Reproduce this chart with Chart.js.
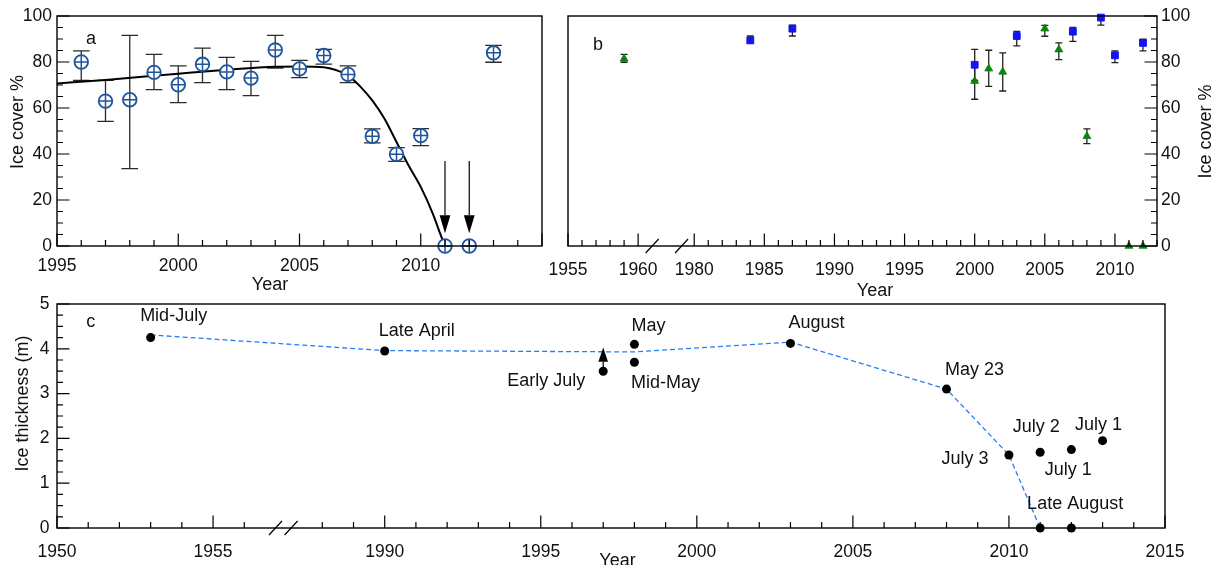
<!DOCTYPE html>
<html>
<head>
<meta charset="utf-8">
<script src="https://cdn.jsdelivr.net/npm/chart.js@4.4.1/dist/chart.umd.min.js"></script>
<style>
  html, body { margin: 0; padding: 0; background: #fff; }
  body { width: 1214px; height: 565px; position: relative; overflow: hidden; }
  .panel { position: absolute; }
</style>
</head>
<body>
<div class="panel" style="left:0;top:0;width:560px;height:300px"><canvas id="chartA"></canvas></div>
<div class="panel" style="left:545px;top:0;width:669px;height:300px"><canvas id="chartB"></canvas></div>
<div class="panel" style="left:0;top:296px;width:1214px;height:269px"><canvas id="chartC"></canvas></div>
<script>
// ---- panel a: ice cover with error bars and fitted curve ----
const coverYears = [1996, 1997, 1998, 1999, 2000, 2001, 2002, 2003, 2004, 2005, 2006, 2007, 2008, 2009, 2010, 2011, 2012, 2013];
const coverMean  = [80, 63, 63.6, 75.5, 70.1, 79, 75.7, 73, 85.2, 77, 82.8, 74.6, 47.7, 39.9, 48, 0, 0, 84];
const coverLow   = [72, 54.2, 33.6, 68, 62.3, 71, 68, 65.4, 77.4, 73.2, 79.1, 71, 44.8, 36.8, 43.6, 0, 0, 79.9];
const coverHigh  = [84.8, 72, 91.6, 83.3, 78.3, 86, 82, 80.3, 91.6, 80.7, 85.5, 78.3, 50.9, 42.8, 51, 0, 0, 87.2];

const fitYears = [1995, 1997, 2000, 2002, 2004, 2005, 2006, 2006.5, 2007, 2007.5, 2008, 2008.5, 2009, 2009.5, 2010, 2010.5, 2010.8, 2011];
const fitCover = [70.7, 72.2, 74.9, 76.6, 77.9, 78.0, 77.7, 76.5, 74.2, 69.4, 63.3, 55.4, 45.2, 35, 25.7, 14, 5.4, 0];

const arrowYears = [2011, 2012];
const arrowFrom  = [37, 37];
const arrowTo    = [5.5, 5.5];

const aTickLabels = [1995, 2000, 2005, 2010];

// ---- panel b: longer record, two sources ----
const squareYears = [1984, 1987, 2000, 2003, 2007, 2009, 2010, 2012];
const squareCover = [89.4, 94.5, 78.8, 91.3, 93.2, 99.3, 82.9, 88.3];
const squareLow   = [88.3, 91.3, 72, 87, 89, 96, 79.7, 84.8];
const squareHigh  = [91.3, 96, 85.5, 93.3, 95, 100, 84.8, 89.9];

const triYears = [1959, 2000, 2001, 2002, 2005, 2006, 2008, 2011, 2012];
const triCover = [81.4, 71.7, 77.1, 75.7, 94.5, 85.4, 47.7, 0, 0];
const triLow   = [79.9, 63.8, 69.4, 67.4, 91.2, 81, 44.5, 0, 0];
const triHigh  = [83.3, 79, 85.1, 84, 95.9, 88.3, 50.9, 0, 0];

const bTickLabels = [1955, 1960, 1980, 1985, 1990, 1995, 2000, 2005, 2010];

// ---- panel c: ice thickness ----
const thickYears = [1953, 1990, 1997, 1998, 1998, 2003, 2008, 2010, 2011, 2011, 2012, 2012, 2013];
const thickness  = [4.25, 3.95, 3.5, 4.10, 3.70, 4.12, 3.10, 1.63, 1.69, 0, 1.75, 0, 1.95];
const thickNotes = ['Mid-July', 'Late April', 'Early July', 'May', 'Mid-May', 'August', 'May 23', 'July 3', 'July 2', 'Late August', 'July 1', '', 'July 1'];

const trendYears = [1953, 1990, 1998, 2003, 2008, 2010, 2011];
const trendThick = [4.31, 3.96, 3.93, 4.15, 3.10, 1.63, 0];

const lowerBoundYear = 1997;
const lowerBoundFrom = 3.5;
const lowerBoundTo   = 4.03;

const cTickLabels = [1950, 1955, 1990, 1995, 2000, 2005, 2010, 2015];

// broken axes: drop the empty decades
const bx = yr => yr > 1962 ? yr - 16 : yr;
const bReal = v => v > 1962 ? v + 16 : v;
const cx = yr => yr > 1957 ? yr - 29.5 : yr;
const cReal = v => v > 1957 ? v + 29.5 : v;

const range = (a, b, s) => { const r = []; for (let v = a; v <= b + 1e-9; v += s) r.push(+v.toFixed(3)); return r; };
const pts = (xs, ys, f) => xs.map((x, i) => ({ x: f ? f(x) : x, y: ys[i] }));

const FONT = '"Liberation Sans", Arial, Helvetica, sans-serif';
Chart.defaults.font.family = FONT;
Chart.defaults.font.size = 17.5;
Chart.defaults.color = '#111';

function axis(pos, min, max, labels, fmt, padding, size) {
  return {
    type: 'linear', position: pos, min: min, max: max,
    grid: { display: false, drawTicks: false },
    border: { display: false },
    ticks: { autoSkip: false, maxRotation: 0, padding: padding, callback: v => String(fmt(v)) },
    afterBuildTicks: s => { s.ticks = labels.map(v => ({ value: v })); },
    afterFit: s => {
      if (s.isHorizontal()) s.height = size; else s.width = size;
      s.paddingLeft = s.paddingRight = s.paddingTop = s.paddingBottom = 0;
    }
  };
}

function drawText(ctx, t) {
  ctx.save();
  ctx.font = (t.size || 18) + 'px ' + FONT;
  ctx.fillStyle = '#111';
  ctx.textAlign = 'center';
  ctx.textBaseline = 'alphabetic';
  ctx.translate(t.x, t.y);
  if (t.rot) ctx.rotate(-Math.PI / 2);
  ctx.fillText(t.t, 0, 0);
  ctx.restore();
}

// frame, inward tick marks, axis breaks, error bars, arrows and text
const deco = {
  id: 'deco',
  beforeDatasetsDraw(chart, args, o) {
    const ctx = chart.ctx, xs = chart.scales.x, ys = chart.scales.y;
    (o.errors || []).forEach(e => {
      ctx.save();
      ctx.strokeStyle = e.color; ctx.lineWidth = e.width;
      ctx.beginPath();
      e.x.forEach((xv, i) => {
        if (e.low[i] === e.high[i]) return;
        const px = xs.getPixelForValue(xv);
        const y1 = ys.getPixelForValue(e.low[i]), y2 = ys.getPixelForValue(e.high[i]);
        ctx.moveTo(px, y1); ctx.lineTo(px, y2);
        ctx.moveTo(px - e.cap, y1); ctx.lineTo(px + e.cap, y1);
        ctx.moveTo(px - e.cap, y2); ctx.lineTo(px + e.cap, y2);
      });
      ctx.stroke();
      ctx.restore();
    });
  },
  afterDatasetsDraw(chart, args, o) {
    const ctx = chart.ctx, a = chart.chartArea, xs = chart.scales.x, ys = chart.scales.y;
    ctx.save();
    ctx.strokeStyle = '#000';
    ctx.lineWidth = 1.4;
    ctx.strokeRect(a.left, a.top, a.right - a.left, a.bottom - a.top);

    ctx.lineWidth = 1.2;
    ctx.beginPath();
    o.xMarks.forEach(v => {
      const px = xs.getPixelForValue(v), len = o.xMajor(v) ? 12.5 : 6;
      ctx.moveTo(px, a.bottom); ctx.lineTo(px, a.bottom - len);
    });
    const edge = o.ySide === 'right' ? a.right : a.left, dir = o.ySide === 'right' ? -1 : 1;
    o.yMarks.forEach(v => {
      const py = ys.getPixelForValue(v), len = o.yMajor(v) ? 12.5 : 6;
      ctx.moveTo(edge, py); ctx.lineTo(edge + dir * len, py);
    });
    (o.breaks || []).forEach(v => {
      const px = xs.getPixelForValue(v);
      ctx.moveTo(px - 6.5, a.bottom + 7); ctx.lineTo(px + 6.5, a.bottom - 7);
    });
    ctx.stroke();

    (o.arrows || []).forEach(ar => {
      ar.x.forEach((xv, i) => {
        const px = xs.getPixelForValue(xv);
        const y0 = ys.getPixelForValue(ar.from[i]), y1 = ys.getPixelForValue(ar.to[i]);
        const s = Math.sign(y1 - y0);
        ctx.beginPath();
        ctx.lineWidth = 1.2;
        ctx.moveTo(px, y0); ctx.lineTo(px, y1 - s * ar.head);
        ctx.stroke();
        ctx.beginPath();
        ctx.fillStyle = '#000';
        ctx.moveTo(px, y1);
        ctx.lineTo(px - ar.half, y1 - s * ar.head);
        ctx.lineTo(px + ar.half, y1 - s * ar.head);
        ctx.closePath();
        ctx.fill();
      });
    });
    ctx.restore();

    if (o.notes) {
      const n = o.notes;
      n.x.forEach((xv, i) => {
        if (!n.text[i]) return;
        drawText(ctx, {
          t: n.text[i],
          x: xs.getPixelForValue(xv) + n.offsets[i][0],
          y: ys.getPixelForValue(n.y[i]) + n.offsets[i][1]
        });
      });
    }
    (o.texts || []).forEach(t => drawText(ctx, t));
  }
};

function baseOptions(pad) {
  return {
    responsive: true, maintainAspectRatio: false, animation: false, events: [],
    layout: { padding: pad },
    plugins: { legend: { display: false }, tooltip: { enabled: false } }
  };
}

const blueA = '#1f559b';

// panel a
const optA = baseOptions({ left: 0, top: 16, right: 18, bottom: 0 });
optA.scales = {
  x: axis('bottom', 1995, 2015, aTickLabels, v => v, 9.5, 54),
  y: axis('left', 0, 100, range(0, 100, 20), v => v, 5, 57)
};
optA.plugins.deco = {
  xMarks: range(1995, 2015, 1), xMajor: v => v % 5 === 0,
  yMarks: range(0, 100, 5), yMajor: v => v % 20 === 0, ySide: 'left',
  errors: [{ x: coverYears, low: coverLow, high: coverHigh, cap: 8.3, width: 1.3, color: '#2b2b2b' }],
  arrows: [{ x: arrowYears, from: arrowFrom, to: arrowTo, head: 18, half: 5.4 }],
  texts: [
    { t: 'a', x: 91, y: 43.5 },
    { t: 'Year', x: 270, y: 289.5 },
    { t: 'Ice cover %', x: 23, y: 122, rot: true }
  ]
};
new Chart(document.getElementById('chartA'), {
  type: 'scatter',
  data: {
    datasets: [
      { type: 'line', data: pts(fitYears, fitCover), borderColor: '#000', borderWidth: 2, pointRadius: 0,
        cubicInterpolationMode: 'monotone', fill: false, order: 3, clip: false },
      { data: pts(coverYears, coverMean), pointStyle: 'circle', pointRadius: 6.8, backgroundColor: '#fff',
        borderColor: blueA, borderWidth: 1.8, order: 2, clip: false },
      { data: pts(coverYears, coverMean), pointStyle: 'cross', pointRadius: 6.8,
        borderColor: blueA, borderWidth: 1.5, order: 1, clip: false }
    ]
  },
  options: optA,
  plugins: [deco]
});

// panel b
const optB = baseOptions({ left: 23, top: 16, right: 0, bottom: 0 });
optB.scales = {
  x: axis('bottom', 1955, bx(2013), bTickLabels.map(bx), bReal, 13.5, 54),
  y: axis('right', 0, 100, range(0, 100, 20), v => v, 4, 57)
};
optB.plugins.deco = {
  xMarks: range(1955, 1960, 1).concat(range(1980, 2013, 1)).map(bx), xMajor: v => bReal(v) % 5 === 0,
  yMarks: range(0, 100, 5), yMajor: v => v % 20 === 0, ySide: 'right',
  breaks: [1961, 1963.1],
  errors: [
    { x: squareYears.map(bx), low: squareLow, high: squareHigh, cap: 3.5, width: 1.3, color: '#222' },
    { x: triYears.map(bx), low: triLow, high: triHigh, cap: 3.5, width: 1.3, color: '#222' }
  ],
  texts: [
    { t: 'b', x: 53, y: 50 },
    { t: 'Year', x: 330, y: 296 },
    { t: 'Ice cover %', x: 666, y: 131.5, rot: true }
  ]
};
new Chart(document.getElementById('chartB'), {
  type: 'scatter',
  data: {
    datasets: [
      { data: pts(triYears, triCover, bx), pointStyle: 'triangle', pointRadius: 4.6,
        backgroundColor: '#0d820d', borderColor: '#0d820d', borderWidth: 0.8, order: 1, clip: false },
      { data: pts(squareYears, squareCover, bx), pointStyle: 'rect', pointRadius: 4.8,
        backgroundColor: '#1414f0', borderColor: '#1414f0', borderWidth: 1, order: 2, clip: false }
    ]
  },
  options: optB,
  plugins: [deco]
});

// panel c
const optC = baseOptions({ left: 0, top: 8, right: 49, bottom: 0 });
optC.scales = {
  x: axis('bottom', 1950, cx(2015), cTickLabels.map(cx), cReal, 13.5, 37),
  y: axis('left', 0, 5, range(0, 5, 1), v => v, 7.5, 57)
};
optC.plugins.deco = {
  xMarks: range(1950, 1956, 1).concat(range(1988, 2015, 1)).map(cx), xMajor: v => Math.round(cReal(v)) % 5 === 0,
  yMarks: range(0, 5, 0.25), yMajor: v => Math.abs(v - Math.round(v)) < 1e-6, ySide: 'left',
  breaks: [1957, 1957.5],
  arrows: [{ x: [cx(lowerBoundYear)], from: [lowerBoundFrom], to: [lowerBoundTo], head: 14.4, half: 4.8 }],
  notes: {
    x: thickYears.map(cx), y: thickness, text: thickNotes,
    offsets: [[23, -17], [32, -15], [-57, 15], [14, -13], [31, 26], [26, -15], [28, -14],
              [-44, 9], [-4, -20], [35, -19], [-3, 25], [0, 0], [-4, -11]]
  },
  texts: [
    { t: 'c', x: 90.7, y: 31 },
    { t: 'Year', x: 617.5, y: 269.5 },
    { t: 'Ice thickness (m)', x: 28, y: 107.5, rot: true }
  ]
};
new Chart(document.getElementById('chartC'), {
  type: 'scatter',
  data: {
    datasets: [
      { type: 'line', data: pts(trendYears, trendThick, cx), borderColor: '#2a7cf6', borderWidth: 1.3,
        borderDash: [5, 3], pointRadius: 0, fill: false, tension: 0, order: 2, clip: false },
      { data: pts(thickYears, thickness, cx), pointStyle: 'circle', pointRadius: 4.5,
        backgroundColor: '#000', borderColor: '#000', borderWidth: 0, order: 1, clip: false }
    ]
  },
  options: optC,
  plugins: [deco]
});
</script>
</body>
</html>
